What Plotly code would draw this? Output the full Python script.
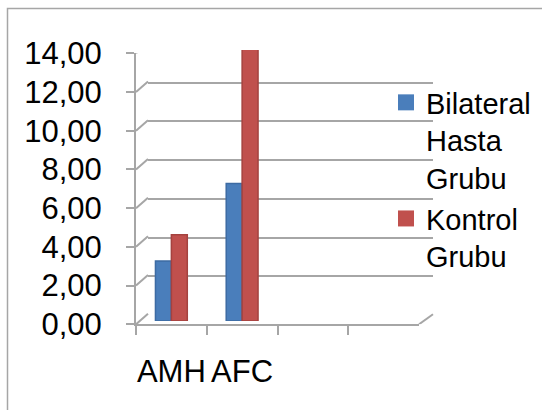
import plotly.graph_objects as go

# Data
categories = ["AMH", "AFC"]
empty_slots = [" ", "  "]  # two unused category slots on the axis
series_names = ["Bilateral<br>Hasta<br>Grubu", "Kontrol<br>Grubu"]
bilateral = [3.10, 7.10]
kontrol = [4.45, 14.05]
y_ticks = [0, 2, 4, 6, 8, 10, 12, 14]
colors = ["#4A7EBB", "#C0504D"]
edge_colors = ["#3D6BA3", "#A5423F"]

W, H = 542, 410
GRID = "#A6A6A6"
FONT = "Liberation Sans, Arial, sans-serif"


def dx(p):
    return p / W


def dy(p):
    return 1 - p / H


all_cats = categories + empty_slots

fig = go.Figure()

# Back-wall gridlines live on their own subplot, shifted up and right
fig.add_trace(go.Scatter(x=[None], y=[None], xaxis="x2", yaxis="y2",
                         showlegend=False, hoverinfo="skip"))

# Front axes (carry the category slots and value ticks)
fig.add_trace(go.Scatter(x=all_cats, y=[None] * len(all_cats),
                         showlegend=False, hoverinfo="skip"))

# Columns
for name, vals, col, edge in zip(series_names, [bilateral, kontrol], colors, edge_colors):
    fig.add_trace(go.Bar(
        x=categories, y=vals, name=name, marker_color=col,
        marker_line=dict(color=edge, width=1.5), xaxis="x3", yaxis="y3",
        showlegend=False, cliponaxis=False,
    ))
    fig.add_trace(go.Scatter(
        x=[None], y=[None], mode="markers", name=name,
        marker=dict(symbol="square", size=16, color=col),
        xaxis="x3", yaxis="y3",
    ))

fig.update_layout(
    template="none",
    width=W, height=H,
    margin=dict(l=0, r=0, t=0, b=0, autoexpand=False),
    paper_bgcolor="white",
    plot_bgcolor="rgba(0,0,0,0)",
    separators=", ",
    font=dict(family=FONT, size=31, color="black"),
    barmode="group", bargap=0.55, bargroupgap=0,
    xaxis=dict(
        domain=[dx(136), dx(419)], anchor="y", automargin=False,
        type="category", categoryorder="array", categoryarray=all_cats,
        range=[-0.5, 3.5], tickson="boundaries", tickangle=0,
        showline=True, linecolor=GRID, linewidth=2,
        ticks="outside", ticklen=9, tickwidth=2, tickcolor=GRID,
        showgrid=False, zeroline=False, ticklabelstandoff=18,
        fixedrange=True,
    ),
    yaxis=dict(
        domain=[dy(324.3), dy(53.3)], anchor="x", automargin=False,
        range=[0, 14], tickvals=y_ticks, tickformat=".2f",
        showline=True, linecolor=GRID, linewidth=2,
        ticks="outside", ticklen=8, tickwidth=2, tickcolor=GRID,
        showgrid=False, zeroline=False, ticklabelstandoff=18,
        fixedrange=True,
    ),
    xaxis2=dict(domain=[dx(148), dx(433)], anchor="y2", range=[0, 1],
                visible=False, fixedrange=True, automargin=False),
    yaxis2=dict(domain=[dy(315), dy(44)], anchor="x2", range=[0, 14],
                tickvals=y_ticks, showticklabels=False, ticks="",
                showgrid=True, gridcolor=GRID, gridwidth=2, automargin=False,
                showline=False, zeroline=False, fixedrange=True),
    xaxis3=dict(domain=[dx(136), dx(419)], anchor="y3", automargin=False,
                type="category", categoryorder="array", categoryarray=all_cats,
                range=[-0.5, 3.5], visible=False, fixedrange=True),
    yaxis3=dict(domain=[dy(321), dy(50)], anchor="x3", range=[0, 14],
                visible=False, fixedrange=True, automargin=False),
    legend=dict(
        x=dx(386), y=dy(77), xanchor="left", yanchor="top",
        bgcolor="rgba(0,0,0,0)", valign="top", borderwidth=0,
        font=dict(size=29, family=FONT), itemsizing="trace",
        tracegroupgap=0,
    ),
)

shapes = []
# Depth edges joining each front tick to its back-wall gridline
for v in y_ticks:
    shapes.append(dict(
        type="line", xref="x domain", yref="y",
        xsizemode="pixel", ysizemode="pixel",
        xanchor=0, yanchor=v, x0=0, x1=12, y0=0, y1=10.5,
        line=dict(color=GRID, width=2), layer="below",
    ))
# Right edge of the floor
shapes.append(dict(
    type="line", xref="x domain", yref="y",
    xsizemode="pixel", ysizemode="pixel",
    xanchor=1, yanchor=0, x0=0, x1=14, y0=0, y1=10,
    line=dict(color=GRID, width=2), layer="below",
))
# Chart area frame
shapes.append(dict(
    type="rect", xref="paper", yref="paper",
    x0=dx(7.5), x1=1.05, y0=-0.05, y1=dy(8.5),
    line=dict(color=GRID, width=1.5), layer="below",
))
fig.update_layout(shapes=shapes)

fig.write_html("out.html")
